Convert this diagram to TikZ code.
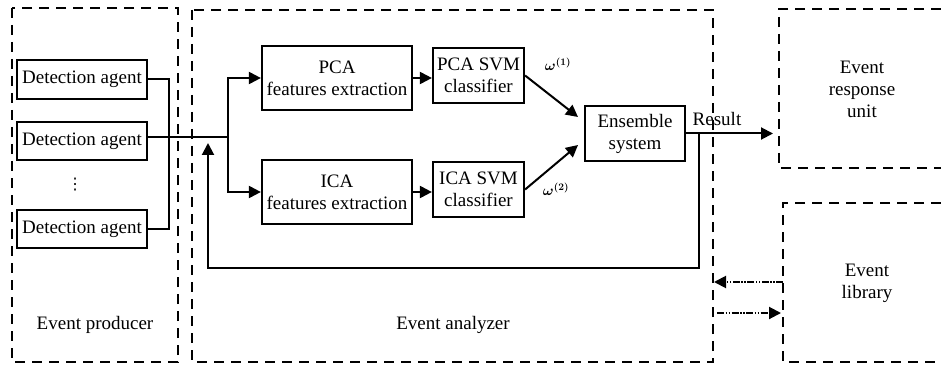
\documentclass[tikz,border=0pt]{standalone}
\usepackage{fontspec}
\setmainfont{Liberation Serif}
\newfontfamily\dejavu{DejaVu Sans}
\usetikzlibrary{arrows.meta,calc}
\begin{document}
\begin{tikzpicture}[x=1pt,y=-1pt,
  font=\fontsize{19}{22}\selectfont,
  box/.style={draw,line width=2.2pt,rectangle,inner sep=0pt,align=center},
  grp/.style={draw,line width=2.2pt,dash pattern=on 10pt off 7pt},
  lbl/.style={inner sep=0pt,align=center},
  conn/.style={line width=2pt},
  arr/.style={line width=2pt,-{Triangle[length=12pt,width=12pt]}},
  dd/.style={line width=2pt,dash pattern=on 7pt off 1.5pt on 1.5pt off 1.5pt on 1.5pt off 1.5pt,-{Triangle[length=12pt,width=12pt]}},
  wl/.style={inner sep=0pt,font=\boldmath\fontsize{14}{16}\selectfont}
]
\useasboundingbox (0,0) rectangle (941,366);
% groups
\draw[grp] (12,8) rectangle (178,362);
\draw[grp] (192,10) rectangle (713,362);
\draw[grp] (941,9) -| (779,168) -- (941,168);
\draw[grp] (941,203) -| (783,362) -- (941,362);
\node[lbl] (lprod) at (95,325) {Event producer};
\node[lbl] (lana) at (453,325) {Event analyzer};
\node[lbl] (lresp) at (862,89) {Event\\response\\unit};
\node[lbl] (llib) at (867,283) {Event\\library};
% detection agents
\node[box,minimum width=130pt,minimum height=39pt] (d1) at (82,79.5) {Detection agent};
\node[box,minimum width=130pt,minimum height=38pt] (d2) at (82,141) {Detection agent};
\node[box,minimum width=130pt,minimum height=38pt] (d3) at (82,229) {Detection agent};
\node[lbl,font=\dejavu\fontsize{16}{18}\selectfont] (dots) at (75,185) {⋮};
% analyzer blocks
\node[box,minimum width=150pt,minimum height=64pt] (pca) at (337,78) {PCA\\features extraction};
\node[box,minimum width=150pt,minimum height=64pt] (ica) at (337,192) {ICA\\features extraction};
\node[box,minimum width=91pt,minimum height=55pt] (psvm) at (478.5,75.5) {PCA SVM\\classifier};
\node[box,minimum width=91pt,minimum height=55pt] (isvm) at (478.5,189.5) {ICA SVM\\classifier};
\node[box,minimum width=100pt,minimum height=55pt] (ens) at (635,133.5) {Ensemble\\system};
\node[wl] (w1) at (558,64) {$\omega^{(1)}$};
\node[wl] (w2) at (556,189) {$\omega^{(2)}$};
\node[lbl] (lres) at (717,119) {Result};
% coordinates
\coordinate (br) at (228,137);
\coordinate (e1) at (578,117);
\coordinate (e2) at (578,145);
\coordinate (res) at (773,133.5);
\coordinate (fb) at (699,133.5);
\coordinate (fbc) at (208,268);
\coordinate (fbt) at (208,143);
\coordinate (la) at (783,282);
\coordinate (lb) at (714,282);
\coordinate (lc) at (717,313);
\coordinate (ld) at (781,313);
% connectors
\draw[conn] (d1.east) -- ++(21,0) |- (d3.east);
\draw[conn] (d2.east |- br) -- (br);
\draw[arr] (br) |- (pca.west);
\draw[arr] (br) |- (ica.west);
\draw[arr] (pca.east) -- (psvm.west |- pca.east);
\draw[arr] (ica.east) -- (isvm.west |- ica.east);
\draw[arr] (psvm.east) -- (e1);
\draw[arr] (isvm.east) -- (e2);
\draw[arr] (ens.east) -- (res);
\draw[arr] (fb) |- (fbc) -- (fbt);
\draw[dd] (la) -- (lb);
\draw[dd] (lc) -- (ld);
\end{tikzpicture}
\end{document}
